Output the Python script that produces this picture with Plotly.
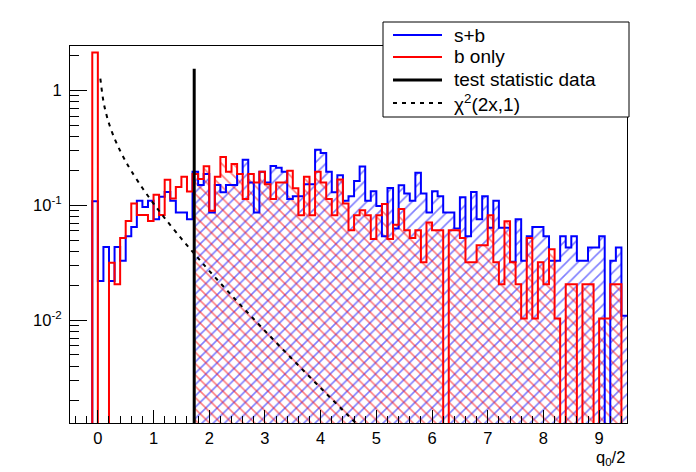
import numpy as np
import plotly.graph_objects as go

# ---------------- data ----------------
bin_low = -0.5
bin_width = 0.1
n_bins = 100

# s+b histogram contents, bins [-0.5,-0.4) ... [9.4,9.5)
sb_values = [
    0, 0, 0, 0, 0.109,
    0.022, 0.0435, 0.022, 0.0435, 0.033, 0.054, 0.065, 0.110, 0.097, 0.110,
    0.076, 0.119, 0.131, 0.110, 0.087, 0.087, 0.076, 0.196, 0.151, 0.188,
    0.087, 0.151, 0.130, 0.151, 0.151, 0.188, 0.250, 0.158, 0.087, 0.196,
    0.158, 0.220, 0.213, 0.196, 0.114, 0.120, 0.120, 0.153, 0.153, 0.305,
    0.286, 0.196, 0.130, 0.183, 0.110, 0.120, 0.163, 0.218, 0.110, 0.133,
    0.099, 0.054, 0.142, 0.063, 0.150, 0.127, 0.110, 0.193, 0.127, 0.087,
    0.133, 0.120, 0.087, 0.087, 0.063, 0.118, 0.054, 0.131, 0.076, 0.120,
    0.064, 0.110, 0.064, 0.064, 0.0324, 0.076, 0.033, 0.054, 0.065, 0.065,
    0.054, 0.033, 0.033, 0.054, 0.043, 0.054, 0.033, 0.033, 0.043, 0.043,
    0.054, 0, 0.033, 0.043, 0.011,
]

# b only histogram contents
b_values = [
    0, 0, 0, 0, 2.14,
    0, 0, 0.0318, 0.0206, 0.0521, 0.0734, 0.104, 0.0828, 0.0828, 0.0734,
    0.124, 0.0828, 0.167, 0.115, 0.145, 0.178, 0.132, 0.188, 0.170, 0.219,
    0.090, 0.178, 0.264, 0.196, 0.230, 0.188, 0.114, 0.188, 0.158, 0.196,
    0.153, 0.114, 0.158, 0.158, 0.200, 0.141, 0.082, 0.178, 0.082, 0.196,
    0.158, 0.114, 0.082, 0.168, 0.104, 0.061, 0.082, 0.091, 0.082, 0.051,
    0.082, 0.103, 0.051, 0.068, 0.093, 0.061, 0.052, 0.061, 0.032, 0.071,
    0.061, 0.061, 0, 0.061, 0.061, 0.052, 0.032, 0.032, 0.045, 0.045,
    0.082, 0.032, 0.0206, 0.073, 0.032, 0.0206, 0.0104, 0.052, 0.0104, 0.032,
    0.0206, 0.0415, 0.0104, 0, 0.0206, 0.0206, 0, 0.0206, 0.0206, 0,
    0.0104, 0.0104, 0.0206, 0.0206, 0,
]

# observed test statistic (vertical black line)
test_stat = 1.73
test_stat_top = 1.55

# chi2(2x,1) dashed curve
chi2_x = [0.045, 0.1, 0.15, 0.2, 0.3, 0.4, 0.5, 0.6, 0.8, 1.0, 1.2, 1.5,
          1.75, 2.0, 2.5, 3.0, 3.5, 4.0, 4.5, 4.7]
chi2_y = [1.27, 0.807, 0.627, 0.516, 0.3815, 0.299, 0.242, 0.200, 0.1417,
          0.1038, 0.0776, 0.0514, 0.0371, 0.0270, 0.01465, 0.00811, 0.00455,
          0.00258, 0.001478, 0.001183]

x_tick_vals = [0, 1, 2, 3, 4, 5, 6, 7, 8, 9]
y_tick_vals = [0.01, 0.1, 1]
y_tick_text = ["10<sup>-2</sup>", "10<sup>-1</sup>", "1"]
legend_labels = ["s+b", "b only", "test statistic data", "χ<sup>2</sup>(2x,1)"]
x_title = "q<sub>0</sub>/2"

# ---------------- helpers ----------------
Y_MIN, Y_MAX = 0.00128, 2.44
FLOOR = 1e-4
edges = bin_low + bin_width * np.arange(n_bins + 1)
BLUE, RED = "#0000ff", "#ff0000"
FONT = "Liberation Sans, Arial, Helvetica, sans-serif"


def step(vals):
    v = np.array([a if a > 0 else FLOOR for a in vals])
    return edges, np.append(v, v[-1])


def hatch_poly(vals):
    xs, ys = [test_stat], [FLOOR]
    start = int((test_stat - bin_low) / bin_width)
    for i in range(start, n_bins):
        v = vals[i] if vals[i] > 0 else FLOOR
        xs += [max(edges[i], test_stat), edges[i + 1]]
        ys += [v, v]
    xs.append(edges[-1])
    ys.append(FLOOR)
    return xs, ys


fig = go.Figure()

# hatched areas beyond the observed value
for vals, col, shp in [(sb_values, BLUE, "/"), (b_values, RED, "\\")]:
    hx, hy = hatch_poly(vals)
    fig.add_trace(go.Scatter(
        x=hx, y=hy, mode="lines", line=dict(width=0), fill="toself",
        fillcolor="rgba(0,0,0,0)",
        fillpattern=dict(shape=shp, fgcolor=col, bgcolor="rgba(0,0,0,0)",
                         size=8, solidity=0.2),
        hoverinfo="skip", showlegend=False))

# histogram outlines
for vals, col in [(sb_values, BLUE), (b_values, RED)]:
    sx, sy = step(vals)
    fig.add_trace(go.Scatter(x=sx, y=sy, mode="lines", line_shape="hv",
                             line=dict(color=col, width=2), showlegend=False))

# chi2 curve
fig.add_trace(go.Scatter(x=chi2_x, y=chi2_y, mode="lines", line_shape="spline",
                         line=dict(color="black", width=2, dash="4px,5px"),
                         showlegend=False))

# test statistic line
fig.add_trace(go.Scatter(x=[test_stat, test_stat], y=[FLOOR, test_stat_top],
                         mode="lines", line=dict(color="black", width=3),
                         showlegend=False))

# ---------------- layout ----------------
# page pixel positions of the plot frame (the page body adds an 8px offset)
OFF = 8
PL, PR, PT, PB = 70, 627, 46, 423
W, H = 696 - OFF, 472 - OFF


def px(x):
    return (x - PL) / (PR - PL)


def py(y):
    return (PB - y) / (PB - PT)


minor_y = [m * 10.0 ** e for e in range(-3, 1) for m in range(2, 10)]

fig.update_layout(
    width=W, height=H,
    margin=dict(l=PL - OFF, r=W - (PR - OFF), t=PT - OFF, b=H - (PB - OFF),
                autoexpand=False),
    paper_bgcolor="white", plot_bgcolor="white",
    font=dict(family=FONT, size=16, color="black"),
    xaxis=dict(range=[-0.5, 9.5], showgrid=False, zeroline=False,
               automargin=False,
               showline=True, linecolor="black", linewidth=1, mirror=True,
               ticks="inside", ticklen=13, tickcolor="black", tickwidth=1,
               tickmode="array", tickvals=x_tick_vals,
               tickfont=dict(size=16.5), ticklabelstandoff=0,
               minor=dict(ticks="inside", ticklen=7, dtick=0.2, tick0=0,
                          tickcolor="black", showgrid=False)),
    yaxis=dict(type="log", range=[np.log10(Y_MIN), np.log10(Y_MAX)],
               showgrid=False, zeroline=False, automargin=False,
               showline=True, linecolor="black", linewidth=1, mirror=True,
               ticks="inside", ticklen=17, tickcolor="black", tickwidth=1,
               tickmode="array", tickvals=y_tick_vals, ticktext=y_tick_text,
               tickfont=dict(size=16.5), ticklabelstandoff=4,
               minor=dict(ticks="inside", ticklen=9, tickmode="array",
                          tickvals=minor_y, tickcolor="black", showgrid=False)),
)

# x-axis title
fig.add_annotation(x=1.0, y=py(458), xref="paper", yref="paper",
                   text=x_title, showarrow=False, xanchor="right",
                   yanchor="middle", font=dict(size=16.5))

# legend box
shapes = [dict(type="rect", xref="paper", yref="paper",
               x0=px(383), x1=px(629), y0=py(117), y1=py(22),
               fillcolor="white", line=dict(color="black", width=1),
               layer="above")]
leg_y = [35, 57, 80, 103]
leg_styles = [dict(color=BLUE, width=2), dict(color=RED, width=2),
              dict(color="black", width=3),
              dict(color="black", width=2, dash="4px,5px")]
for yy, st, lab in zip(leg_y, leg_styles, legend_labels):
    shapes.append(dict(type="line", xref="paper", yref="paper",
                       x0=px(393), x1=px(442), y0=py(yy), y1=py(yy),
                       line=st, layer="above"))
    fig.add_annotation(x=px(452), y=py(yy), xref="paper", yref="paper",
                       text=lab, showarrow=False, xanchor="left",
                       yanchor="middle", font=dict(size=19))
fig.update_layout(shapes=shapes)

fig.write_html("out.html")
